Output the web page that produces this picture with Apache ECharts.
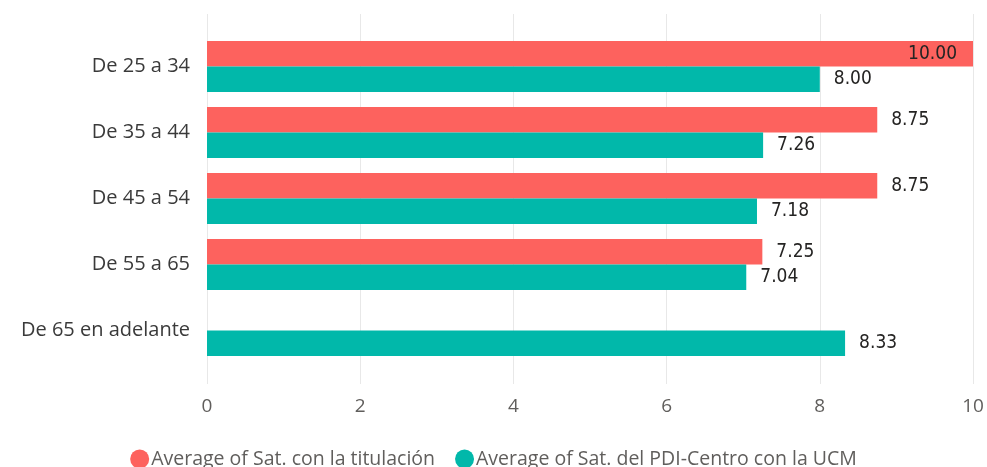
<!DOCTYPE html>
<html>
<head>
<meta charset="utf-8">
<script src="https://cdn.jsdelivr.net/npm/echarts@6/dist/echarts.min.js"></script>
<style>
html,body{margin:0;padding:0;background:#fff;}
#chart{width:987px;height:467px;}
</style>
</head>
<body>
<div id="chart"></div>
<script>
var categories=['De 25 a 34','De 35 a 44','De 45 a 54','De 55 a 65','De 65 en adelante'];
var satTitulacion=[10.00,8.75,8.75,7.25,null];
var satPdiCentro=[8.00,7.26,7.18,7.04,8.33];
var xTicks=[0,2,4,6,8,10];
var seriesNames=['Average of Sat. con la titulación','Average of Sat. del PDI-Centro con la UCM'];

var textFont='"Open Sans", "Noto Sans", sans-serif';
var labelFont='"DejaVu Sans Condensed", "DejaVu Sans", sans-serif';

// etiquetas: dentro de la barra si no cabe a la derecha
function withLabels(arr){
	return arr.map(function(v){
		if(v===null) return null;
		return {
			value:v,
			label:{position:v>=9.5?'insideRight':'right',distance:v>=9.5?16:14}
		};
	});
}

var chart=echarts.init(document.getElementById('chart'));
var option={
	animation:false,
	color:['#FD625E','#01B8AA'],
	legend:{
		data:seriesNames,
		left:'center',
		top:444,
		icon:'circle',
		itemWidth:19,
		itemHeight:19,
		itemGap:20,
		textStyle:{color:'#605E5C',fontSize:19.5,fontFamily:textFont,padding:[0,0,0,-3]}
	},
	grid:[
		{left:207,right:14,top:14,bottom:83},
		{left:207,right:14,top:33.5,bottom:103.5}
	],
	xAxis:[
		{
			gridIndex:0,type:'value',min:0,max:10,interval:2,
			axisLine:{show:false},axisTick:{show:false},
			axisLabel:{color:'#605E5C',fontSize:19,fontFamily:textFont,margin:13,
				formatter:function(v){return xTicks.indexOf(v)>=0?String(v):'';}},
			splitLine:{show:true,lineStyle:{color:'#E8E8E8',width:1}}
		},
		{
			gridIndex:1,type:'value',min:0,max:10,
			show:false
		}
	],
	yAxis:[
		{gridIndex:0,type:'category',data:[''],show:false},
		{
			gridIndex:1,type:'category',data:categories,inverse:true,
			axisLine:{show:false},axisTick:{show:false},
			axisLabel:{color:'#3A3A3A',fontSize:20,fontFamily:textFont,margin:17},
			splitLine:{show:false}
		}
	],
	series:[
		{
			name:seriesNames[0],type:'bar',xAxisIndex:1,yAxisIndex:1,
			data:withLabels(satTitulacion),
			barGap:'0%',barCategoryGap:'22.7%',
			label:{show:true,color:'#252423',fontSize:19,fontFamily:labelFont,
				formatter:function(p){return p.value.toFixed(2);}}
		},
		{
			name:seriesNames[1],type:'bar',xAxisIndex:1,yAxisIndex:1,
			data:withLabels(satPdiCentro),
			barGap:'0%',barCategoryGap:'22.7%',
			label:{show:true,color:'#252423',fontSize:19,fontFamily:labelFont,
				formatter:function(p){return p.value.toFixed(2);}}
		}
	]
};
chart.setOption(option);
</script>
</body>
</html>
